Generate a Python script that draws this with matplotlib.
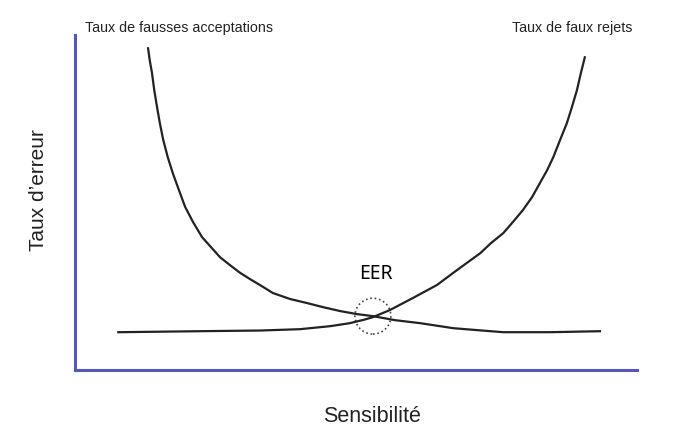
import matplotlib.pyplot as plt
from matplotlib.patches import Ellipse

plt.rcParams['font.family'] = ['Liberation Sans', 'DejaVu Sans']

# taux de fausses acceptations (décroissant)
far_x = [13.0, 13.3, 13.7, 14.1, 14.6, 15.1, 15.7, 16.5, 17.4, 18.5, 19.6, 21.0, 22.6, 24.2, 25.8, 27.6, 29.4,
         31.1, 32.9, 35.2, 38.3, 41.3, 44.1, 47.2, 50.2, 53.0, 56.9, 61.4, 67.3, 71.7, 76.2, 84.5, 93.4]
far_y = [96.1, 92.5, 88.7, 83.6, 78.5, 73.7, 68.7, 63.6, 58.8, 53.7, 48.7, 44.2, 39.7, 36.7, 33.7, 31.3, 29.0,
         27.2, 25.4, 23.0, 21.2, 20.0, 18.8, 17.6, 16.7, 16.1, 14.9, 14.0, 12.5, 11.9, 11.3, 11.3, 11.6]

# taux de faux rejets (croissant)
frr_x = [7.7, 22.2, 32.9, 40.0, 45.4, 48.9, 51.6, 53.0, 56.0, 60.1, 64.4, 68.0, 72.1, 74.0, 76.2, 77.9, 79.7,
         81.3, 82.7, 84.0, 85.1, 86.3, 87.5, 88.4, 89.3, 90.0, 90.7]
frr_y = [11.3, 11.6, 11.8, 12.2, 13.1, 14.0, 15.1, 15.8, 17.9, 21.5, 25.4, 29.9, 34.9, 37.9, 40.9, 44.2, 47.8,
         51.6, 55.8, 59.7, 63.6, 68.7, 73.7, 78.5, 83.6, 88.7, 93.4]

eer_x, eer_y = 53.0, 16.1

fig = plt.figure(figsize=(6.88, 4.4), dpi=100)
ax = fig.add_axes([0.109, 0.159, 0.817, 0.761])

ax.plot(far_x, far_y, color='#222222', lw=1.6, solid_joinstyle='round')
ax.plot(frr_x, frr_y, color='#222222', lw=1.6, solid_joinstyle='round')

ax.add_patch(Ellipse((eer_x, eer_y), 6.4, 10.7, fill=False, ls=':', lw=1.2, color='#444444'))
ax.text(eer_x + 0.6, eer_y + 12.6, 'EER', ha='center', va='center', fontsize=14,
        family=['Noto Sans', 'DejaVu Sans'])

ax.set_xlim(0, 100)
ax.set_ylim(0, 100)
ax.set_xticks([])
ax.set_yticks([])
for s in ['top', 'right']:
    ax.spines[s].set_visible(False)
for s in ['left', 'bottom']:
    ax.spines[s].set_color('#5555bb')
    ax.spines[s].set_linewidth(2.2)

fig.text(85 / 688, 1 - 28 / 440, 'Taux de fausses acceptations', fontsize=10.3, va='center', ha='left', color='#222222')
fig.text(632 / 688, 1 - 28 / 440, 'Taux de faux rejets', fontsize=10.3, va='center', ha='right', color='#222222')

fig.text(38 / 688, 1 - 190 / 440, 'Taux d\u2019erreur', fontsize=15, rotation=90, va='center', ha='center', color='#222222')
fig.text(372 / 688, 1 - 416 / 440, 'Sensibilité', fontsize=15.5, va='center', ha='center', color='#222222')

fig.savefig('out.png', dpi=100)
